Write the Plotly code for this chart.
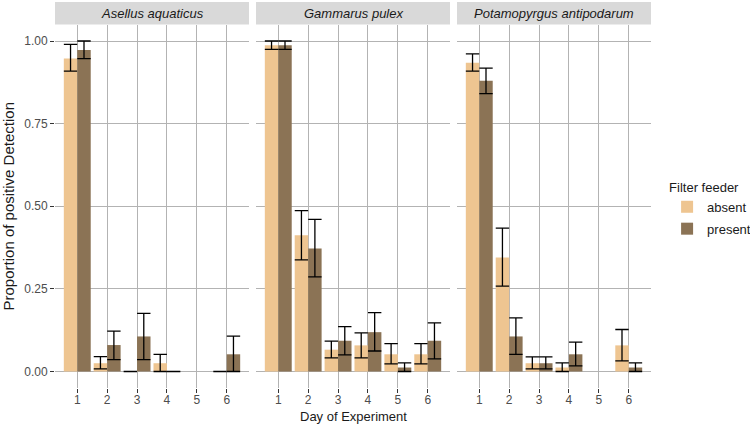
import plotly.graph_objects as go

species = ["Asellus aquaticus", "Gammarus pulex", "Potamopyrgus antipodarum"]
days = [1, 2, 3, 4, 5, 6]
groups = ["absent", "present"]
colors = {"absent": "#EEC591", "present": "#8B7355"}

# mean proportion, upper and lower error limits (None = no data)
asellus_absent = [0.947, 0.025, 0.0, 0.025, None, 0.0]
asellus_absent_hi = [0.990, 0.045, 0.0, 0.052, None, 0.0]
asellus_absent_lo = [0.909, 0.008, 0.0, 0.0, None, 0.0]
asellus_present = [0.973, 0.080, 0.106, 0.0, None, 0.052]
asellus_present_hi = [1.0, 0.122, 0.176, 0.0, None, 0.107]
asellus_present_lo = [0.947, 0.036, 0.036, 0.0, None, 0.0]

gammarus_absent = [0.987, 0.412, 0.066, 0.079, 0.052, 0.052]
gammarus_absent_hi = [1.0, 0.487, 0.092, 0.117, 0.084, 0.084]
gammarus_absent_lo = [0.975, 0.338, 0.041, 0.041, 0.023, 0.023]
gammarus_present = [0.987, 0.372, 0.093, 0.119, 0.012, 0.093]
gammarus_present_hi = [1.0, 0.460, 0.136, 0.178, 0.026, 0.147]
gammarus_present_lo = [0.975, 0.286, 0.050, 0.062, 0.0, 0.038]

potamo_absent = [0.934, 0.345, 0.025, 0.012, None, 0.079]
potamo_absent_hi = [0.961, 0.434, 0.044, 0.026, None, 0.127]
potamo_absent_lo = [0.909, 0.258, 0.008, 0.0, None, 0.032]
potamo_present = [0.880, 0.106, 0.025, 0.052, None, 0.012]
potamo_present_hi = [0.918, 0.162, 0.044, 0.089, None, 0.026]
potamo_present_lo = [0.841, 0.052, 0.008, 0.017, None, 0.0]

y_ticks = [0, 0.25, 0.5, 0.75, 1.0]
y_tick_labels = ["0.00", "0.25", "0.50", "0.75", "1.00"]

data = {
    species[0]: {
        "absent": (asellus_absent, asellus_absent_hi, asellus_absent_lo),
        "present": (asellus_present, asellus_present_hi, asellus_present_lo),
    },
    species[1]: {
        "absent": (gammarus_absent, gammarus_absent_hi, gammarus_absent_lo),
        "present": (gammarus_present, gammarus_present_hi, gammarus_present_lo),
    },
    species[2]: {
        "absent": (potamo_absent, potamo_absent_hi, potamo_absent_lo),
        "present": (potamo_present, potamo_present_hi, potamo_present_lo),
    },
}

W, H = 750, 426
ml, mr, mt, mb = 55, 99, 2, 38
pw = W - ml - mr
ph = H - mt - mb
panel_w = 194
gap = 7
domains = []
for i in range(3):
    a = i * (panel_w + gap)
    domains.append([a / pw, min((a + panel_w) / pw, 1.0)])
strip_h = 22.5
ydom_top = (ph - strip_h) / ph

fig = go.Figure()
bw = 0.45
for i, sp in enumerate(species):
    xa = "x" if i == 0 else f"x{i+1}"
    for g in groups:
        vals, hi, lo = data[sp][g]
        plus = [None if v is None else h - v for v, h in zip(vals, hi)]
        minus = [None if v is None else v - l for v, l in zip(vals, lo)]
        fig.add_trace(go.Bar(
            x=days, y=vals, xaxis=xa, yaxis="y",
            width=bw, offset=-bw if g == "absent" else 0,
            marker=dict(color=colors[g], line=dict(width=0)),
            name=g, legendgroup=g, showlegend=(i == 0),
            error_y=dict(type="data", symmetric=False, array=plus, arrayminus=minus,
                         color="black", thickness=1.3, width=6.7),
        ))

axis_font = dict(family="Liberation Sans, Arial, sans-serif", size=12, color="#4d4d4d")
layout = dict(
    width=W, height=H,
    margin=dict(l=ml, r=mr, t=mt, b=mb, autoexpand=False),
    plot_bgcolor="white", paper_bgcolor="white",
    barmode="overlay",
    font=dict(family="Liberation Sans, Arial, sans-serif", size=12, color="#1a1a1a"),
    yaxis=dict(domain=[0, ydom_top], range=[-0.05, 1.05], tickvals=y_ticks, ticktext=y_tick_labels,
               showgrid=True, gridcolor="#b3b3b3", gridwidth=1.3, zeroline=False,
               ticks="outside", ticklen=4, tickcolor="#333333", tickfont=axis_font,
               title=dict(text="Proportion of positive Detection", font=dict(size=15, color="#1a1a1a"), standoff=6),
               showline=False),
    legend=dict(title=dict(text="Filter feeder", font=dict(size=13, color="#1a1a1a")),
                x=1.027, xanchor="left", y=0.552, yanchor="top",
                font=dict(size=13, color="#1a1a1a"), bgcolor="rgba(0,0,0,0)",
                itemsizing="constant", tracegroupgap=2),
)
for i in range(3):
    key = "xaxis" if i == 0 else f"xaxis{i+1}"
    layout[key] = dict(domain=domains[i], range=[0.255, 6.745], tickvals=days,
                       showgrid=True, gridcolor="#b3b3b3", gridwidth=1.3, zeroline=False,
                       ticks="outside", ticklen=4, tickcolor="#333333", tickfont=axis_font,
                       ticklabelstandoff=-3,
                       anchor="y", showline=False)
fig.update_layout(**layout)

for i, sp in enumerate(species):
    fig.add_shape(type="rect", xref="paper", yref="paper",
                  x0=domains[i][0], x1=domains[i][1], y0=ydom_top, y1=1.0,
                  fillcolor="#d9d9d9", line=dict(width=0), layer="below")
    fig.add_annotation(text=f"<i>{sp}</i>", xref="paper", yref="paper",
                       x=(domains[i][0] + domains[i][1]) / 2, y=(ydom_top + 1) / 2,
                       showarrow=False, xanchor="center", yanchor="middle",
                       font=dict(size=13, color="#1a1a1a"))

fig.add_annotation(text="Day of Experiment", xref="paper", yref="paper",
                   x=0.5, y=0, yshift=-19, showarrow=False, yanchor="top",
                   font=dict(size=13, color="#1a1a1a"))

fig.write_html("out.html", config={"displayModeBar": False},
               post_script="document.body.style.margin='0';")
